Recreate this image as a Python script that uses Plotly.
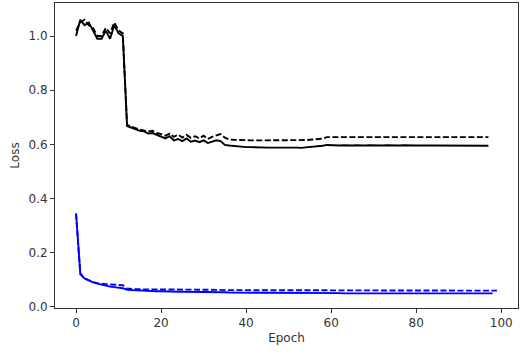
import plotly.graph_objects as go

# loss per epoch
train_loss = [
    1.000, 1.060, 1.040, 1.050, 1.020, 0.990, 0.990, 1.020, 0.990, 1.040, 1.010, 1.000,
    0.668, 0.662, 0.655, 0.650, 0.648, 0.640, 0.642, 0.635,
    0.628, 0.622, 0.630, 0.615, 0.620, 0.612, 0.622, 0.610, 0.614, 0.608,
    0.615, 0.605, 0.610, 0.615, 0.612, 0.598,
    0.596, 0.594, 0.592, 0.591, 0.590, 0.590, 0.589, 0.590, 0.589, 0.588,
    0.588, 0.589, 0.588, 0.588, 0.587, 0.588, 0.588, 0.587, 0.589, 0.590,
    0.592, 0.593, 0.595,
    0.598, 0.597, 0.597, 0.596, 0.597, 0.596, 0.596, 0.597, 0.596, 0.596,
    0.597, 0.596, 0.596, 0.596, 0.597, 0.596, 0.596, 0.596, 0.597, 0.596,
    0.596, 0.596, 0.596, 0.597, 0.596, 0.596, 0.596, 0.596, 0.596, 0.595,
    0.596, 0.596, 0.595, 0.596, 0.596, 0.595, 0.596, 0.596, 0.595,
]
val_loss = [
    1.020, 1.050, 1.060, 1.040, 1.030, 1.000, 1.000, 1.030, 1.010, 1.050, 1.020, 1.010,
    0.672, 0.665, 0.660, 0.655, 0.652, 0.648, 0.650, 0.642,
    0.638, 0.632, 0.640, 0.628, 0.636, 0.625, 0.635, 0.624, 0.630, 0.622,
    0.632, 0.620, 0.628, 0.632, 0.638, 0.625,
    0.618, 0.617, 0.616, 0.616, 0.615, 0.615, 0.615, 0.616, 0.615, 0.615,
    0.615, 0.614, 0.615, 0.615, 0.614, 0.615, 0.615, 0.615, 0.616, 0.617,
    0.618, 0.619, 0.621,
    0.627, 0.627, 0.627, 0.627, 0.627, 0.627, 0.627, 0.627, 0.627, 0.627,
    0.627, 0.627, 0.627, 0.627, 0.627, 0.627, 0.627, 0.627, 0.627, 0.627,
    0.627, 0.627, 0.627, 0.627, 0.627, 0.627, 0.627, 0.627, 0.627, 0.627,
    0.627, 0.627, 0.627, 0.627, 0.627, 0.627, 0.627, 0.627, 0.627,
]
train_loss_b = [
    0.345, 0.125, 0.105, 0.097, 0.091, 0.086, 0.082, 0.078, 0.075, 0.073,
    0.071, 0.069, 0.063, 0.062, 0.061, 0.060, 0.060, 0.059, 0.059, 0.058,
    0.058, 0.057, 0.057, 0.057, 0.056, 0.056, 0.056, 0.055, 0.055, 0.055,
    0.055, 0.054, 0.054, 0.054, 0.054, 0.054, 0.053, 0.053, 0.053, 0.053,
    0.053, 0.053, 0.052, 0.052, 0.052, 0.052, 0.052, 0.052, 0.052, 0.052,
    0.051, 0.051, 0.051, 0.051, 0.051, 0.051, 0.051, 0.051, 0.051, 0.051,
    0.051, 0.051, 0.051, 0.050, 0.050, 0.050, 0.050, 0.050, 0.050, 0.050,
    0.050, 0.050, 0.050, 0.050, 0.050, 0.050, 0.050, 0.050, 0.050, 0.050,
    0.050, 0.050, 0.050, 0.050, 0.050, 0.050, 0.050, 0.050, 0.050, 0.050,
    0.050, 0.050, 0.050, 0.050, 0.050, 0.050, 0.050, 0.050, 0.050,
]
val_loss_b = [
    0.345, 0.120, 0.105, 0.097, 0.092, 0.088, 0.085, 0.084, 0.083, 0.082,
    0.082, 0.080, 0.068, 0.066, 0.065, 0.065, 0.065, 0.065, 0.064, 0.064,
    0.064, 0.064, 0.064, 0.064, 0.064, 0.063, 0.063, 0.063, 0.063, 0.063,
    0.063, 0.063, 0.063, 0.063, 0.063, 0.062, 0.062, 0.062, 0.062, 0.062,
    0.062, 0.062, 0.062, 0.062, 0.062, 0.062, 0.062, 0.062, 0.062, 0.062,
    0.061, 0.061, 0.061, 0.061, 0.061, 0.061, 0.061, 0.061, 0.061, 0.061,
    0.061, 0.061, 0.061, 0.061, 0.061, 0.061, 0.061, 0.061, 0.061, 0.061,
    0.061, 0.061, 0.060, 0.060, 0.060, 0.060, 0.060, 0.060, 0.060, 0.060,
    0.060, 0.060, 0.060, 0.060, 0.060, 0.060, 0.060, 0.060, 0.060, 0.060,
    0.060, 0.060, 0.060, 0.060, 0.060, 0.060, 0.060, 0.060, 0.060, 0.060,
]

x_ticks = [0, 20, 40, 60, 80, 100]
y_ticks = [0.0, 0.2, 0.4, 0.6, 0.8, 1.0]

fig = go.Figure()

series = [
    (train_loss, "black", "solid"),
    (val_loss, "black", "6px,2.5px"),
    (train_loss_b, "#0000ff", "solid"),
    (val_loss_b, "#0000ff", "6px,2.5px"),
]
for vals, color, dash in series:
    fig.add_trace(
        go.Scatter(
            x=list(range(len(vals))),
            y=vals,
            mode="lines",
            line=dict(color=color, width=1.9, dash=dash),
            showlegend=False,
        )
    )

font = dict(family="DejaVu Sans", size=12, color="#333333")
axis_style = dict(
    showline=True,
    linecolor="#333333",
    linewidth=1,
    mirror=True,
    ticks="outside",
    ticklen=4,
    tickcolor="#333333",
    showgrid=False,
    zeroline=False,
    automargin=False,
    tickfont=font,
)

fig.update_xaxes(
    range=[-4.95, 103.95],
    tickvals=x_ticks,
    title=dict(text="Epoch", font=font, standoff=4),
    **axis_style,
)
fig.update_yaxes(
    range=[-0.004, 1.122],
    tickvals=y_ticks,
    tickformat=".1f",
    title=dict(text="Loss", font=font, standoff=6),
    **axis_style,
)

fig.update_layout(
    width=526,
    height=354,
    margin=dict(l=55, r=8, t=3, b=46),
    plot_bgcolor="white",
    paper_bgcolor="white",
)

# page body has a default 8px margin; drop it so the figure sits at the window edge
fig.write_html(
    "out.html",
    config={"displayModeBar": False},
    post_script="document.body.style.margin='0';",
)
